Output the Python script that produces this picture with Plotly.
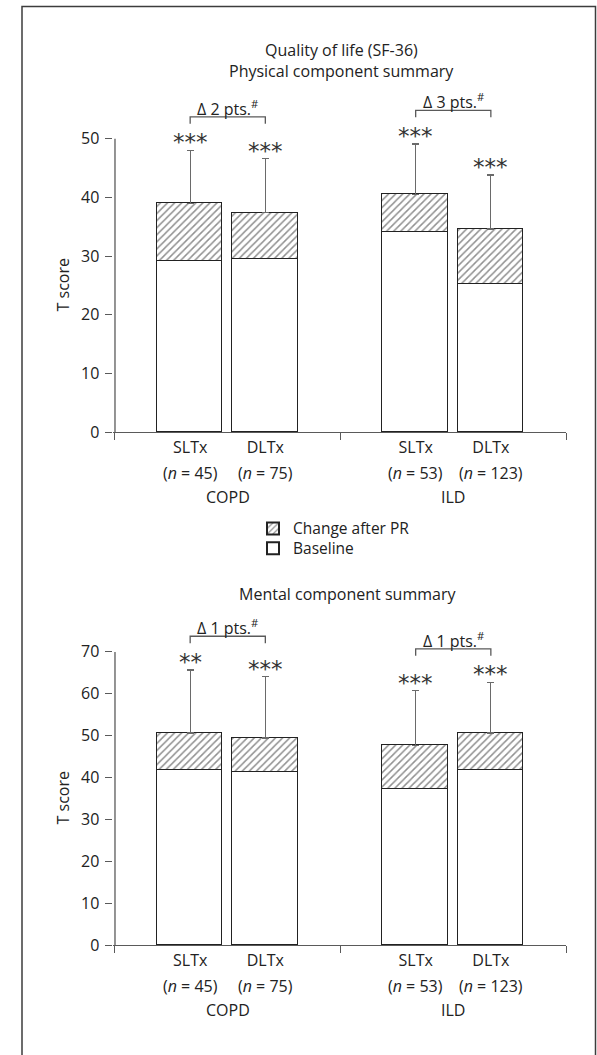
import plotly.graph_objects as go

# ---- data -------------------------------------------------------------
groups = ["COPD", "ILD"]
procedures = ["SLTx", "DLTx", "SLTx", "DLTx"]
n_patients = [45, 75, 53, 123]
x_pos = [2, 4, 8, 10]
group_x = [3, 9]
group_bounds = [0, 6, 12]
pairs = [(0, 1), (2, 3)]

# Physical component summary (T score)
pcs_baseline = [29.2, 29.5, 34.1, 25.3]
pcs_change = [9.8, 7.9, 6.4, 9.3]
pcs_sd = [9.0, 9.2, 8.6, 9.2]
pcs_stars = ["***", "***", "***", "***"]
pcs_delta = ["Δ 2 pts.", "Δ 3 pts."]
pcs_ticks = [0, 10, 20, 30, 40, 50]

# Mental component summary (T score)
mcs_baseline = [41.8, 41.3, 37.3, 41.8]
mcs_change = [8.8, 8.1, 10.4, 8.8]
mcs_sd = [15.1, 14.7, 13.0, 12.1]
mcs_stars = ["**", "***", "***", "***"]
mcs_delta = ["Δ 1 pts.", "Δ 1 pts."]
mcs_ticks = [0, 10, 20, 30, 40, 50, 60, 70]

# ---- style ------------------------------------------------------------
W, H = 597, 1055
FONT = "Open Sans"
STAR_FONT = "DejaVu Sans"
INK = "#222222"
AXIS = "#5a5a5a"
FS = 16
BAR_W = 1.74
X_DOMAIN = [0.1901, 0.9481]
X_RANGE = [-0.04, 12]

panels = [
    dict(base=pcs_baseline, change=pcs_change, sd=pcs_sd, stars=pcs_stars,
         delta=pcs_delta, ticks=pcs_ticks, ytop=60, ydom=[0.5861, 0.9233],
         xa="x", ya="y"),
    dict(base=mcs_baseline, change=mcs_change, sd=mcs_sd, stars=mcs_stars,
         delta=mcs_delta, ticks=mcs_ticks, ytop=80, ydom=[0.0948, 0.4157],
         xa="x2", ya="y2"),
]

fig = go.Figure()
shapes = []
annotations = []

for k, p in enumerate(panels):
    xa, ya = p["xa"], p["ya"]
    ppu = (p["ydom"][1] - p["ydom"][0]) * H / p["ytop"]  # pixels per unit
    tops = [b + c for b, c in zip(p["base"], p["change"])]
    err_top = [t + s for t, s in zip(tops, p["sd"])]

    fig.add_bar(
        x=x_pos, y=p["base"], xaxis=xa, yaxis=ya, width=BAR_W,
        name="Baseline", legend="legend2", showlegend=(k == 0),
        marker=dict(color="white", line=dict(color=INK, width=1.5)),
        hoverinfo="skip",
    )
    fig.add_bar(
        x=x_pos, y=p["change"], xaxis=xa, yaxis=ya, width=BAR_W,
        name="Change after PR", legend="legend", showlegend=(k == 0),
        marker=dict(
            color="white", line=dict(color=INK, width=1.5),
            pattern=dict(shape="/", fgcolor="#222222", bgcolor="white",
                         size=5, solidity=0.3),
        ),
        error_y=dict(type="data", symmetric=False, array=p["sd"],
                     arrayminus=[0] * len(p["sd"]), color="#6a6a6a",
                     thickness=1.3, width=3.5),
        hoverinfo="skip",
    )

    # y axis line from 0 up to the last tick
    shapes.append(dict(type="line", xref=xa, yref=ya, x0=0, x1=0,
                       y0=0, y1=max(p["ticks"]),
                       line=dict(color=AXIS, width=1.3)))

    # significance stars above each error bar
    for xi, et, st in zip(x_pos, err_top, p["stars"]):
        annotations.append(dict(
            xref=xa, yref=ya, x=xi, y=et, text=st,
            showarrow=False, yanchor="bottom", yshift=-7,
            font=dict(family=STAR_FONT, size=23, color="#333333")))

    # sample sizes under the procedure tick labels
    for xi, n in zip(x_pos, n_patients):
        annotations.append(dict(
            xref=xa, yref=ya, x=xi, y=0,
            text=(f'(<span style="font-style:italic;font-size:{FS}px">n</span>'
                  f' = {n})'),
            showarrow=False, yanchor="middle", yshift=-41,
            font=dict(family=FONT, size=FS, color=INK)))

    # comparison brackets between SLTx and DLTx
    for (i, j), d in zip(pairs, p["delta"]):
        yb = max(err_top[i], err_top[j]) + 34 / ppu
        yd = yb - 7 / ppu
        shapes.append(dict(
            type="path", xref=xa, yref=ya,
            path=f"M {x_pos[i]},{yd} L {x_pos[i]},{yb} L {x_pos[j]},{yb} L {x_pos[j]},{yd}",
            line=dict(color=AXIS, width=1.3)))
        annotations.append(dict(
            xref=xa, yref=ya, x=(x_pos[i] + x_pos[j]) / 2, y=yb,
            text=f"{d}<sup>#</sup>", showarrow=False, yanchor="middle",
            yshift=9, font=dict(family=FONT, size=FS, color=INK)))

    # disease group labels under the tick labels
    for gx, g in zip(group_x, groups):
        annotations.append(dict(
            xref=xa, yref=ya, x=gx, y=0, text=g, showarrow=False,
            yanchor="middle", yshift=-65,
            font=dict(family=FONT, size=FS, color=INK)))

    # y axis title
    annotations.append(dict(
        xref="paper", yref=ya, x=63 / W, y=max(p["ticks"]) / 2,
        text="T score", textangle=-90, showarrow=False,
        xanchor="center", yanchor="middle",
        font=dict(family=FONT, size=FS, color=INK)))

    xkey = "xaxis" if k == 0 else "xaxis2"
    ykey = "yaxis" if k == 0 else "yaxis2"
    fig.update_layout(**{
        xkey: dict(
            domain=X_DOMAIN, range=X_RANGE, anchor=ya,
            tickvals=x_pos, ticktext=procedures, ticks="",
            ticklabelstandoff=1,
            tickfont=dict(family=FONT, size=FS, color=INK),
            showline=True, linecolor=AXIS, linewidth=1.3,
            showgrid=False, zeroline=False, fixedrange=True,
            minor=dict(tickvals=group_bounds, ticks="outside", ticklen=7,
                       tickcolor=AXIS, tickwidth=1.3, showgrid=False),
        ),
        ykey: dict(
            domain=p["ydom"], range=[0, p["ytop"]], anchor=xa,
            tickvals=p["ticks"], ticks="outside", ticklen=7,
            tickcolor=AXIS, tickwidth=1.3, ticklabelstandoff=3,
            tickfont=dict(family=FONT, size=FS, color=INK),
            showline=False, showgrid=False, zeroline=False, fixedrange=True,
        ),
    })

# panel titles
for txt, xp, yp in [("Quality of life (SF-36)", 341, 51),
                    ("Physical component summary", 341, 72),
                    ("Mental component summary", 347, 600)]:
    annotations.append(dict(
        xref="paper", yref="paper", x=xp / W, y=1 - yp / H, text=txt,
        showarrow=False, xanchor="center", yanchor="middle",
        font=dict(family=FONT, size=FS, color=INK)))

# outer frame of the figure
shapes.append(dict(type="rect", xref="paper", yref="paper",
                   x0=22 / W, x1=595.5 / W, y0=-0.02, y1=1 - 6.5 / H,
                   line=dict(color="#3c3c3c", width=1.5), layer="below"))

legend_style = dict(xanchor="left", yanchor="top", bgcolor="rgba(0,0,0,0)",
                    borderwidth=0, font=dict(family=FONT, size=15.5, color=INK),
                    itemsizing="constant")

fig.update_layout(
    width=W, height=H, margin=dict(l=0, r=0, t=0, b=0),
    paper_bgcolor="white", plot_bgcolor="white",
    barmode="stack", bargap=0,
    font=dict(family=FONT, size=FS, color=INK),
    shapes=shapes, annotations=annotations,
    legend=dict(x=253 / W, y=1 - 517.2 / H, **legend_style),
    legend2=dict(x=253 / W, y=1 - 537.2 / H, **legend_style),
)

fig.write_html("out.html")
